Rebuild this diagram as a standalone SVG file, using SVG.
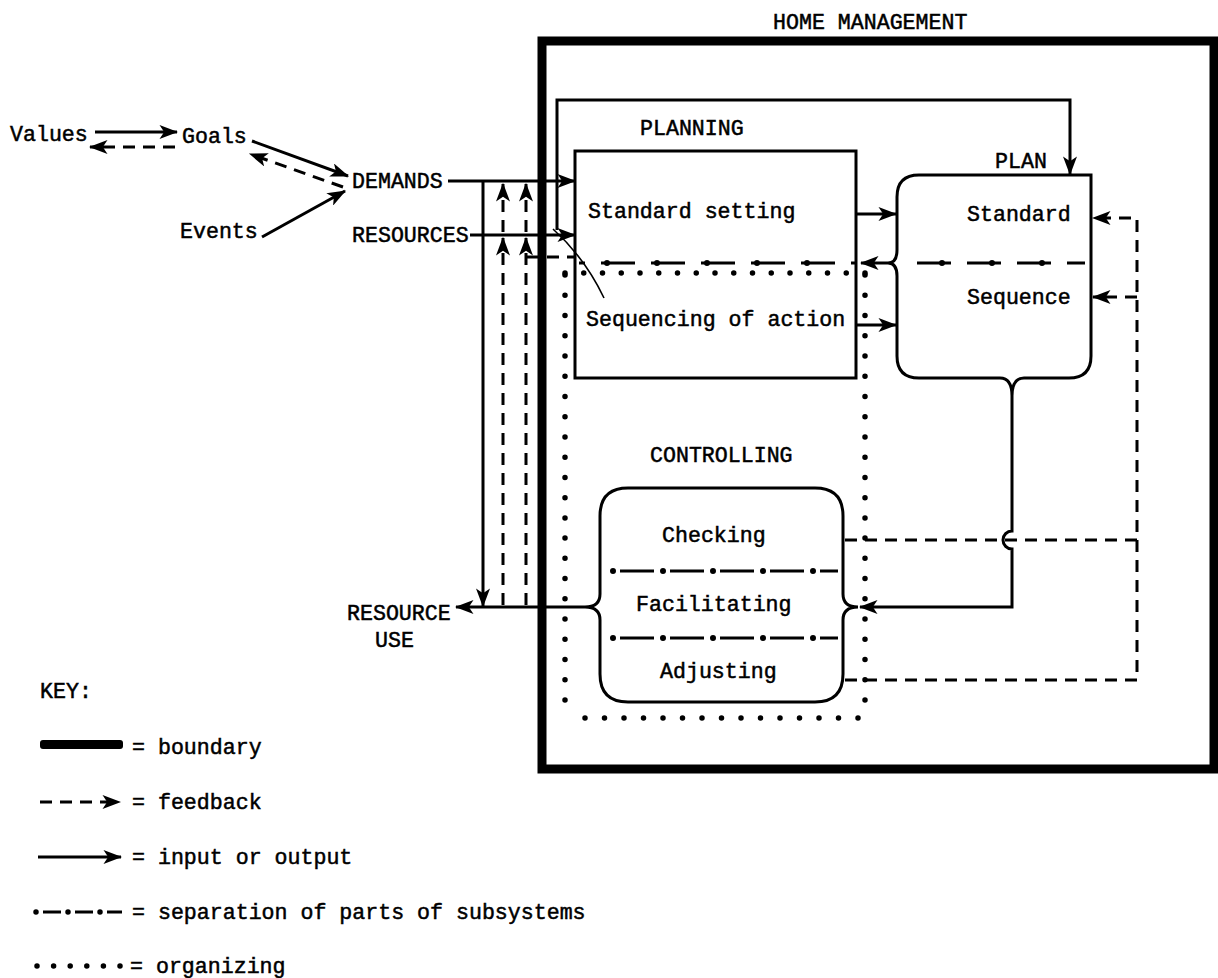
<svg xmlns="http://www.w3.org/2000/svg" width="1218" height="978" viewBox="0 0 1218 978">
<style>
text{font-family:"Liberation Mono","DejaVu Sans Mono",monospace;font-size:21.6px;fill:#000;stroke:#000;stroke-width:0.5}
.ln{fill:none;stroke:#000;stroke-width:3}
.fb{fill:none;stroke:#000;stroke-width:3;stroke-dasharray:12 8}
.sepl{fill:none;stroke:#000;stroke-width:3.2;stroke-dasharray:34 16}
.sepd{fill:none;stroke:#000;stroke-width:6;stroke-linecap:round;stroke-dasharray:0 50;stroke-dashoffset:8}
.dot{fill:none;stroke:#000;stroke-width:5.5;stroke-linecap:round}
.dh{stroke-dasharray:0 18.75}
.dv{stroke-dasharray:0 20.24}
.db{stroke-dasharray:0 19.5}
.dk{stroke-dasharray:0 16.6}
.box{fill:none;stroke:#000;stroke-width:3}
.thin{fill:none;stroke:#000;stroke-width:1.6}
</style>
<defs>
<marker id="ah" viewBox="0 0 16 12" refX="15" refY="6" markerWidth="19" markerHeight="14" markerUnits="userSpaceOnUse" orient="auto">
<path d="M0,0 L16,6 L0,12 L4,6 Z" fill="#000"/>
</marker>
</defs>
<rect width="1218" height="978" fill="#fff"/>

<g id="home-management">
<rect x="542" y="41" width="672" height="728" fill="none" stroke="#000" stroke-width="9"/>
<text x="773" y="29">HOME MANAGEMENT</text>
</g>

<g id="values"><text x="10" y="141">Values</text></g>
<g id="goals"><text x="182" y="143">Goals</text></g>
<g id="events"><text x="180" y="238">Events</text></g>
<g id="demands"><text x="352" y="188">DEMANDS</text></g>
<g id="resources"><text x="352" y="242">RESOURCES</text></g>
<g id="resource-use"><text x="347" y="620">RESOURCE</text><text x="375" y="647">USE</text></g>

<g id="planning">
<text x="640" y="135">PLANNING</text>
<rect x="575" y="151" width="281" height="227" class="box"/>
<text x="588" y="218">Standard setting</text>
<text x="586" y="326">Sequencing of action</text>
<path d="M527,257 L575,257" class="fb"/>
<path d="M579,263 L856,263" class="sepl" style="stroke-dashoffset:-22"/>
<path d="M579,263 L856,263" class="sepd" style="stroke-dashoffset:22"/>
</g>

<g id="plan">
<text x="995" y="168">PLAN</text>
<path d="M1091,175 L919,175 Q897,175 897,197 L897,250 Q897,263 888,263 Q897,263 897,276 L897,356 Q897,378 919,378 L1000,378 Q1012,378 1012,396 Q1012,378 1024,378 L1069,378 Q1091,378 1091,356 Z" class="box"/>
<text x="967" y="221">Standard</text>
<text x="967" y="304">Sequence</text>
<path d="M903,263 L1085,263" class="sepl" style="stroke-dashoffset:-14"/>
<path d="M903,263 L1085,263" class="sepd" style="stroke-dashoffset:11"/>
</g>

<g id="organizing">
<path d="M565,273 L866,273" class="dot dh"/>
<path d="M565,275 L565,701" class="dot dv"/>
<path d="M585,718 L859,718" class="dot db"/>
<path d="M865,275 L865,701" class="dot dv"/>
</g>

<g id="controlling">
<text x="650" y="462">CONTROLLING</text>
<path d="M628,488 L815,488 Q843,488 843,516 L843,594 Q843,607 858,607 Q843,607 843,620 L843,674 Q843,702 815,702 L628,702 Q600,702 600,674 L600,620 Q600,607 585,607 Q600,607 600,594 L600,516 Q600,488 628,488 Z" class="box"/>
<text x="662" y="542">Checking</text>
<path d="M620,571 L838,571" class="sepl"/>
<path d="M613,571 L838,571" class="sepd" style="stroke-dashoffset:0"/>
<text x="636" y="611">Facilitating</text>
<path d="M620,638 L838,638" class="sepl"/>
<path d="M613,638 L838,638" class="sepd" style="stroke-dashoffset:0"/>
<text x="660" y="678">Adjusting</text>
</g>

<g id="connectors">
<path d="M95,132 L177,132" class="ln" marker-end="url(#ah)"/>
<path d="M175,147 L90,147" class="fb" marker-end="url(#ah)"/>
<path d="M252,141 L348,176" class="ln" marker-end="url(#ah)"/>
<path d="M343,187 L250,154" class="fb" marker-end="url(#ah)"/>
<path d="M262,237 L345,191" class="ln" marker-end="url(#ah)"/>
<path d="M448,181 L575,181" class="ln" marker-end="url(#ah)"/>
<path d="M470,235 L575,235" class="ln" marker-end="url(#ah)"/>
<path d="M483,181 L483,606" class="ln" marker-end="url(#ah)"/>
<path d="M585,607 L456,607" class="ln" marker-end="url(#ah)"/>
<path d="M503,605 L503,238" class="fb" marker-end="url(#ah)"/>
<path d="M503,232 L503,184" class="fb" marker-end="url(#ah)"/>
<path d="M526,605 L526,238" class="fb" marker-end="url(#ah)"/>
<path d="M526,232 L526,184" class="fb" marker-end="url(#ah)"/>
<path d="M557,230 L557,100 L1070,100 L1070,174" class="ln" marker-end="url(#ah)"/>
<path d="M553,229 Q585,258 604,298" class="thin"/>
<path d="M856,214 L896,214" class="ln" marker-end="url(#ah)"/>
<path d="M856,325 L896,325" class="ln" marker-end="url(#ah)"/>
<path d="M888,263 L861,263" class="ln" marker-end="url(#ah)"/>
<path d="M845,540 L1137,540" class="fb"/>
<path d="M845,680 L1137,680 L1137,218 L1093,218" class="fb" marker-end="url(#ah)"/>
<path d="M1137,297 L1093,297" class="fb" marker-end="url(#ah)"/>
<path d="M1012,396 L1012,531 A9,9 0 0 0 1012,549 L1012,607 L860,607" class="ln" marker-end="url(#ah)"/>
</g>

<g id="key">
<text x="40" y="698">KEY:</text>
<rect x="40" y="740" width="83" height="9" rx="3" fill="#000"/>
<text x="132" y="754">= boundary</text>
<path d="M40,802 L120,802" class="fb" marker-end="url(#ah)"/>
<text x="132" y="809">= feedback</text>
<path d="M38,857 L121,857" class="ln" marker-end="url(#ah)"/>
<text x="132" y="864">= input or output</text>
<path d="M43,912 L122,912" class="ln" style="stroke-dasharray:18 14"/>
<path d="M36,912 L101,912" class="dot" style="stroke-dasharray:0 32"/>
<text x="132" y="919">= separation of parts of subsystems</text>
<path d="M37,966 L121,966" class="dot dk"/>
<text x="130" y="973">= organizing</text>
</g>
</svg>
